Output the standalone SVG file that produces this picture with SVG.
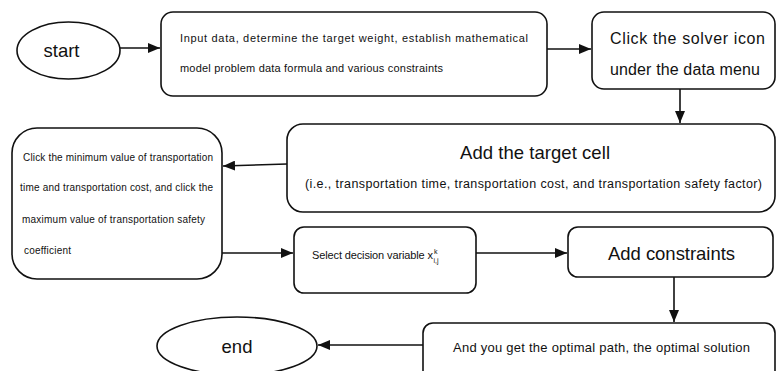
<svg xmlns="http://www.w3.org/2000/svg" width="776" height="371" viewBox="0 0 776 371">
<defs>
<marker id="arr" markerUnits="userSpaceOnUse" markerWidth="12" markerHeight="10" refX="12" refY="5" orient="auto">
<path d="M0,0 L12,5 L0,10 z" fill="#111"/>
</marker>
<style>
.box{fill:#fff;stroke:#111;stroke-width:1.6}
.t{font-family:"Liberation Sans",Arial,sans-serif;fill:#111}
.c{stroke:#111;stroke-width:1.6;fill:none;marker-end:url(#arr)}
</style>
</defs>
<rect width="776" height="371" fill="#fff"/>
<g id="connectors">
<line class="c" x1="120" y1="48" x2="160" y2="48"/>
<line class="c" x1="547" y1="49" x2="591" y2="49"/>
<line class="c" x1="680" y1="89" x2="680" y2="123"/>
<line class="c" x1="287" y1="164" x2="223" y2="166"/>
<line class="c" x1="222" y1="253" x2="293" y2="253"/>
<line class="c" x1="476" y1="253" x2="567" y2="253"/>
<line class="c" x1="674" y1="277" x2="674" y2="322"/>
<line class="c" x1="423" y1="345" x2="318" y2="345"/>
</g>
<g id="start">
<ellipse class="box" cx="68.5" cy="50.5" rx="51.5" ry="28.5"/>
<text class="t" x="61.5" y="57" font-size="18.5" text-anchor="middle">start</text>
</g>
<g id="input">
<rect class="box" x="161" y="12" width="386" height="84" rx="12"/>
<text class="t" x="180" y="42" font-size="11" textLength="348" lengthAdjust="spacing">Input data, determine the target weight, establish mathematical</text>
<text class="t" x="180" y="72" font-size="11" textLength="263" lengthAdjust="spacing">model problem data formula and various constraints</text>
</g>
<g id="solver">
<rect class="box" x="592" y="12" width="183" height="77" rx="12"/>
<text class="t" x="610" y="44" font-size="16" textLength="155" lengthAdjust="spacing">Click the solver icon</text>
<text class="t" x="610" y="75" font-size="16" textLength="150" lengthAdjust="spacing">under the data menu</text>
</g>
<g id="target">
<rect class="box" x="287" y="124" width="488" height="88" rx="16"/>
<text class="t" x="460" y="158.5" font-size="18.5" textLength="150" lengthAdjust="spacing">Add the target cell</text>
<text class="t" x="305" y="187.5" font-size="12.5" textLength="457" lengthAdjust="spacing">(i.e., transportation time, transportation cost, and transportation safety factor)</text>
</g>
<g id="minmax">
<rect class="box" x="12" y="128" width="210" height="151" rx="25"/>
<text class="t" x="23" y="160.5" font-size="10" textLength="190" lengthAdjust="spacing">Click the minimum value of transportation</text>
<text class="t" x="20" y="190.5" font-size="10" textLength="193" lengthAdjust="spacing">time and transportation cost, and click the</text>
<text class="t" x="22" y="222.5" font-size="10" textLength="183" lengthAdjust="spacing">maximum value of transportation safety</text>
<text class="t" x="24" y="253.5" font-size="10" textLength="47" lengthAdjust="spacing">coefficient</text>
</g>
<g id="decision">
<rect class="box" x="294" y="227" width="182" height="66" rx="10"/>
<text class="t" x="312" y="259" font-size="11" textLength="121" lengthAdjust="spacing">Select decision variable x</text>
<text class="t" x="434" y="254" font-size="7">k</text>
<text class="t" x="433.5" y="263" font-size="7">i,j</text>
</g>
<g id="constraints">
<rect class="box" x="568" y="227" width="205" height="50" rx="10"/>
<text class="t" x="608" y="259.5" font-size="18.5" textLength="127" lengthAdjust="spacing">Add constraints</text>
</g>
<g id="result">
<rect class="box" x="423" y="323" width="352" height="60" rx="10"/>
<text class="t" x="453" y="352" font-size="13" textLength="297" lengthAdjust="spacing">And you get the optimal path, the optimal solution</text>
</g>
<g id="end">
<ellipse class="box" cx="237" cy="346" rx="80" ry="29"/>
<text class="t" x="237" y="352.5" font-size="18.5" text-anchor="middle">end</text>
</g>
</svg>
